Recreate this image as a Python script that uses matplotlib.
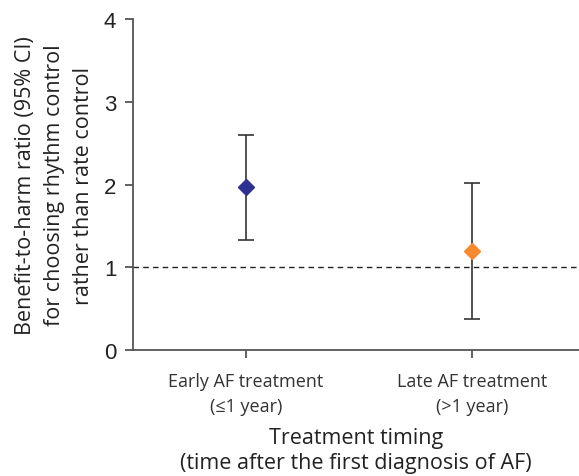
import matplotlib
matplotlib.use('Agg')
import matplotlib.pyplot as plt

# data
groups = ['Early AF treatment\n(≤1 year)', 'Late AF treatment\n(>1 year)']
ratio = [1.97, 1.20]
ci_low = [1.33, 0.37]
ci_high = [2.60, 2.02]
colors = ['#2e3192', '#f7892e']
yticks = [0, 1, 2, 3, 4]

fig = plt.figure(figsize=(5.79, 4.77), dpi=100)
ax = fig.add_axes([0.2297, 0.264, 0.7703, 0.694])

for i in range(len(groups)):
    ax.errorbar(i, ratio[i],
                yerr=[[ratio[i] - ci_low[i]], [ci_high[i] - ratio[i]]],
                fmt='none', ecolor='#333333', elinewidth=1.2, capsize=6, capthick=1.2, zorder=2)
    ax.plot(i, ratio[i], marker='D', color=colors[i], markersize=8, linestyle='none', zorder=3)

ax.axhline(1, color='#222222', linestyle=(0, (4, 3)), linewidth=1.0, zorder=1)

ax.set_xlim(-0.5, 1.473)
ax.set_ylim(0, 4)
ax.set_yticks(yticks)
ax.set_yticklabels([str(t) for t in yticks], fontsize=16, family='Liberation Sans', color='#222222')
ax.set_xticks(range(len(groups)))
ax.set_xticklabels(groups, fontsize=13, family='Open Sans', color='#333333', linespacing=1.45)

for s in ['top', 'right']:
    ax.spines[s].set_visible(False)
for s in ['left', 'bottom']:
    ax.spines[s].set_color('#555555')
    ax.spines[s].set_linewidth(1.3)
ax.tick_params(axis='both', length=6, width=1.3, color='#555555')
ax.tick_params(axis='x', pad=10)
ax.tick_params(axis='y', pad=6)

ax.set_xlabel('Treatment timing\n(time after the first diagnosis of AF)', fontsize=15.5,
              family='Open Sans', color='#222222', linespacing=1.25, labelpad=9)
ax.set_ylabel('Benefit-to-harm ratio (95% CI)\nfor choosing rhythm control\nrather than rate control',
              fontsize=15.5, family='Open Sans', color='#222222', linespacing=1.5, labelpad=7)

fig.savefig('out.png', dpi=100)
